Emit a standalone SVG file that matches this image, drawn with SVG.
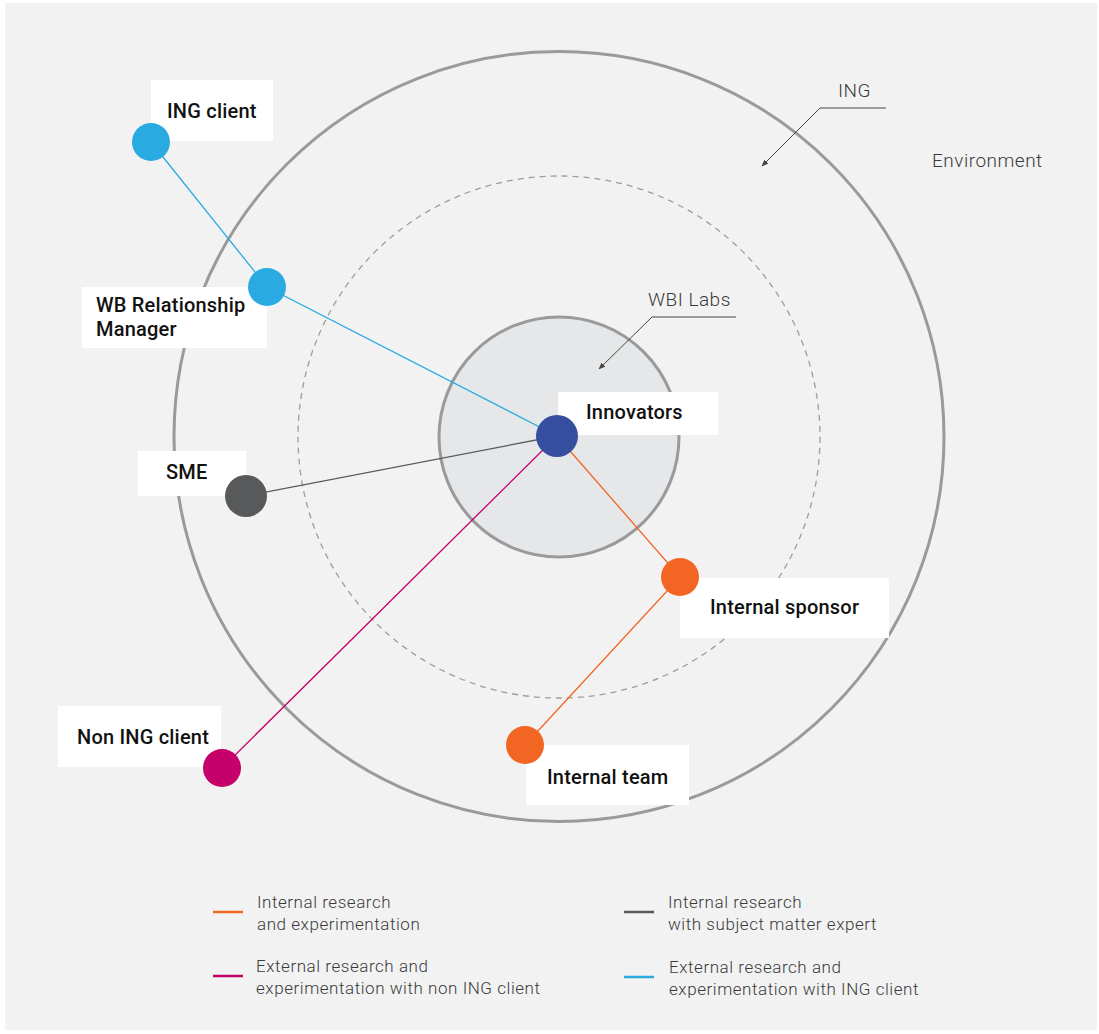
<svg xmlns="http://www.w3.org/2000/svg" width="1099" height="1034" viewBox="0 0 1099 1034">
  <defs>
    <style>
      .ring { fill: none; stroke: #999a9c; stroke-width: 3; }
      .dash { fill: none; stroke: #9d9d9f; stroke-width: 1.3; stroke-dasharray: 6 5; }
      .box { fill: #ffffff; }
      .lbl { font-family: Roboto, "Liberation Sans", sans-serif; font-weight: 500; font-size: 20px; letter-spacing: 0.2px; fill: #111111; }
      .note { font-family: Roboto, "Liberation Sans", sans-serif; font-weight: 300; font-size: 19px; letter-spacing: 0.5px; fill: #3a3a3a; }
      .leg { font-family: Roboto, "Liberation Sans", sans-serif; font-weight: 300; font-size: 17px; letter-spacing: 0.55px; fill: #3a3a3a; }
      .lead { fill: none; stroke: #444444; stroke-width: 1; }
      .link { fill: none; stroke-width: 1.3; }
    </style>
    <marker id="tip" viewBox="0 0 10 10" refX="9" refY="5" markerWidth="7" markerHeight="7" orient="auto">
      <path d="M0,1 L10,5 L0,9 z" fill="#444444"/>
    </marker>
  </defs>

  <!-- panel -->
  <rect x="0" y="0" width="1099" height="1034" fill="#ffffff"/>
  <rect x="5" y="3" width="1092" height="1027" fill="#f2f2f2"/>

  <!-- zones -->
  <g id="zones">
    <circle class="ring" cx="559" cy="436.5" r="385"/>
    <circle class="dash" cx="559" cy="437" r="261"/>
    <circle cx="559" cy="437" r="120" fill="#e6e7e8" stroke="#999a9c" stroke-width="3"/>
  </g>

  <!-- zone annotations -->
  <g id="annotations">
    <text class="note" x="838" y="97">ING</text>
    <path class="lead" d="M886,108 H820 L762,166" marker-end="url(#tip)"/>
    <text class="note" x="932" y="167">Environment</text>
    <text class="note" x="648" y="306">WBI Labs</text>
    <path class="lead" d="M736,317 H652 L599,369" marker-end="url(#tip)"/>
  </g>

  <!-- connectors -->
  <g id="connectors">
    <polyline class="link" stroke="#29abe2" points="151,142 267,287 557,436"/>
    <line class="link" stroke="#58595b" x1="246" y1="496" x2="557" y2="436"/>
    <line class="link" stroke="#c5006a" x1="222" y1="768" x2="557" y2="436"/>
    <polyline class="link" stroke="#f26522" points="557,436 680,577 525,745"/>
  </g>

  <!-- nodes -->
  <g id="ing-client">
    <rect class="box" x="151" y="80" width="122" height="61"/>
    <text class="lbl" x="167" y="118">ING client</text>
    <circle cx="151" cy="142" r="19" fill="#29abe2"/>
  </g>
  <g id="wb-relationship-manager">
    <rect class="box" x="82" y="287" width="185" height="61"/>
    <text class="lbl" x="96" y="312">WB Relationship</text>
    <text class="lbl" x="96" y="336">Manager</text>
    <circle cx="267" cy="287" r="19" fill="#29abe2"/>
  </g>
  <g id="sme">
    <rect class="box" x="138" y="451" width="108" height="45"/>
    <text class="lbl" x="166" y="479">SME</text>
    <circle cx="246" cy="496" r="21" fill="#58595b"/>
  </g>
  <g id="non-ing-client">
    <rect class="box" x="58" y="706" width="163" height="61"/>
    <text class="lbl" x="77" y="744">Non ING client</text>
    <circle cx="222" cy="768" r="19" fill="#c5006a"/>
  </g>
  <g id="innovators">
    <rect class="box" x="558" y="392" width="160" height="43"/>
    <text class="lbl" x="586" y="419">Innovators</text>
    <circle cx="557" cy="436" r="21" fill="#364ea0"/>
  </g>
  <g id="internal-sponsor">
    <rect class="box" x="680" y="578" width="209" height="60"/>
    <text class="lbl" x="710" y="614">Internal sponsor</text>
    <circle cx="680" cy="577" r="19" fill="#f26522"/>
  </g>
  <g id="internal-team">
    <rect class="box" x="526" y="745" width="163" height="60"/>
    <text class="lbl" x="547" y="784">Internal team</text>
    <circle cx="525" cy="745" r="19" fill="#f26522"/>
  </g>

  <!-- legend -->
  <g id="legend">
    <line x1="213" y1="912" x2="243" y2="912" stroke="#f26522" stroke-width="2.5"/>
    <text class="leg" x="257" y="908">Internal research</text>
    <text class="leg" x="257" y="930">and experimentation</text>

    <line x1="624" y1="912" x2="654" y2="912" stroke="#58595b" stroke-width="2.5"/>
    <text class="leg" x="668" y="908">Internal research</text>
    <text class="leg" x="668" y="930">with subject matter expert</text>

    <line x1="213" y1="976" x2="243" y2="976" stroke="#c5006a" stroke-width="2.5"/>
    <text class="leg" x="256" y="972">External research and</text>
    <text class="leg" x="256" y="994">experimentation with non ING client</text>

    <line x1="624" y1="977" x2="654" y2="977" stroke="#29abe2" stroke-width="2.5"/>
    <text class="leg" x="669" y="973">External research and</text>
    <text class="leg" x="669" y="995">experimentation with ING client</text>
  </g>
</svg>
